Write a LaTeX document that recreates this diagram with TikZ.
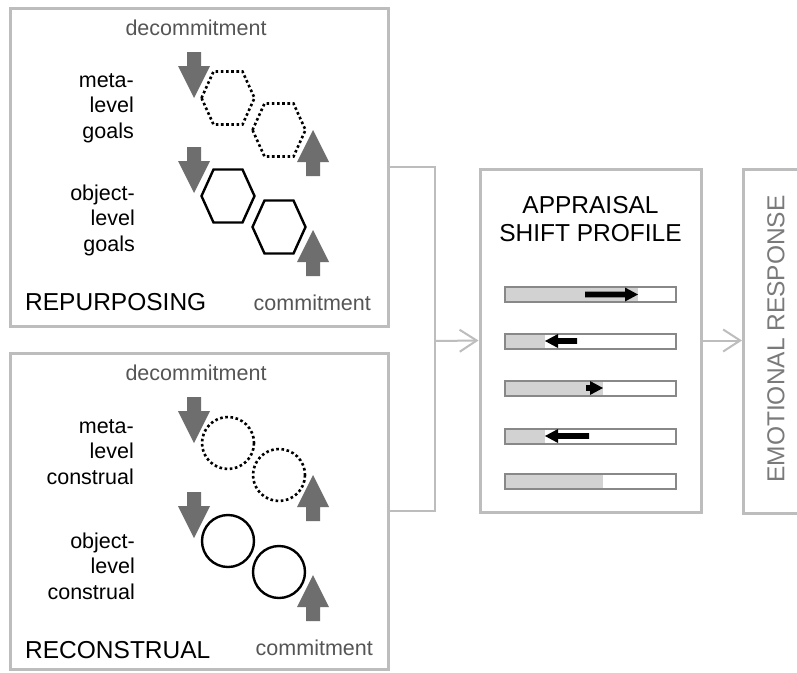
\documentclass[tikz,border=0pt]{standalone}
\usepackage{fontspec}
\setmainfont{Liberation Sans}
\usetikzlibrary{arrows.meta}
\definecolor{boxgray}{HTML}{BDBDBD}
\definecolor{arrgray}{HTML}{6E6E6E}
\definecolor{txtgray}{HTML}{555555}
\definecolor{bargray}{HTML}{888888}
\definecolor{barfill}{HTML}{D2D2D2}
\definecolor{ergray}{HTML}{7A7A7A}
\tikzset{
  panel/.style={draw=boxgray, line width=3pt, fill=white, inner sep=0pt},
  conn/.style={draw=boxgray, line width=2pt},
  conntip/.style={conn, -{Straight Barb[length=17pt,width=22pt,line width=2pt]}},
  lbltxt/.style={font=\fontsize{21.5}{25.5}\selectfont, align=right, anchor=east, inner sep=0pt},
  bigtxt/.style={font=\fontsize{24.5}{28}\selectfont, inner sep=0pt},
  cmtxt/.style={font=\fontsize{21.5}{25}\selectfont, text=txtgray, inner sep=0pt},
  dotline/.style={line width=2.6pt, dash pattern=on 2.6pt off 2.6pt},
  solidline/.style={line width=2.4pt},
  bigarrow/.style={fill=arrgray, draw=none},
  barbox/.style={draw=bargray, line width=2pt},
  blackarrow/.style={fill=black, draw=none}
}
% down arrow with tip at (#1,#2)
\newcommand{\downarr}[2]{\fill[bigarrow] (#1-7,#2-46) -- (#1+7,#2-46) -- (#1+7,#2-32) -- (#1+16,#2-32) -- (#1,#2) -- (#1-16,#2-32) -- (#1-7,#2-32) -- cycle;}
\newcommand{\uparr}[2]{\fill[bigarrow] (#1-7,#2+46) -- (#1+7,#2+46) -- (#1+7,#2+32) -- (#1+16,#2+32) -- (#1,#2) -- (#1-16,#2+32) -- (#1-7,#2+32) -- cycle;}
\newcommand{\hexa}[3]{\draw[#3] (#1-26.5,#2) -- (#1-14.5,#2-26.5) -- (#1+14.5,#2-26.5) -- (#1+26.5,#2) -- (#1+14.5,#2+26.5) -- (#1-14.5,#2+26.5) -- cycle;}
% black bar arrow: right-pointing from tail #1 to tip #2 at y #3
\newcommand{\barR}[3]{\fill[blackarrow] (#1,#3-2.8) -- (#2-13,#3-2.8) -- (#2-13,#3-7) -- (#2,#3) -- (#2-13,#3+7) -- (#2-13,#3+2.8) -- (#1,#3+2.8) -- cycle;}
\newcommand{\barL}[3]{\fill[blackarrow] (#1,#3-2.8) -- (#2+13,#3-2.8) -- (#2+13,#3-7) -- (#2,#3) -- (#2+13,#3+7) -- (#2+13,#3+2.8) -- (#1,#3+2.8) -- cycle;}
\begin{document}
\begin{tikzpicture}[x=1pt,y=-1pt]
\useasboundingbox (0,0) rectangle (797,672);
\clip (0,0) rectangle (797,672);
\fill[white] (0,0) rectangle (797,672);

% panels
\node[panel, minimum width=378pt, minimum height=318pt] (rep) at (199,167) {};
\node[panel, minimum width=378pt, minimum height=316pt] (rec) at (199,511) {};
\node[panel, minimum width=221pt, minimum height=343pt] (asp) at (590.5,340.5) {};
\node[panel, minimum width=120pt, minimum height=344pt, anchor=north west] (er) at (742,168) {};

% connectors
\coordinate (j) at (435,341);
\draw[conn] (rep.east) -| (j) |- (rec.east);
\draw[conntip] (j) -- (asp.west);
\draw[conntip] (asp.east) -- (er.west |- asp.east);

% repurposing panel
\node[cmtxt] (dc1) at (196,28) {decommitment};
\node[lbltxt] (ml1) at (134,108) {meta-\\level\\goals};
\node[lbltxt] (ol1) at (135,220) {object-\\level\\goals};
\node[bigtxt, anchor=west] (repl) at (25,302) {REPURPOSING};
\node[cmtxt, anchor=east] (c1) at (371,303) {commitment};
\hexa{228}{98}{dotline}
\hexa{279}{130}{dotline}
\hexa{228}{196}{solidline}
\hexa{279}{227}{solidline}
\downarr{194}{98}
\uparr{313}{130}
\downarr{194}{193}
\uparr{313}{230}

% reconstrual panel
\node[cmtxt] (dc2) at (196,373) {decommitment};
\node[lbltxt] (ml2) at (134,452) {meta-\\level\\construal};
\node[lbltxt] (ol2) at (135,566) {object-\\level\\construal};
\node[bigtxt, anchor=west] (recl) at (25,650) {RECONSTRUAL};
\node[cmtxt, anchor=east] (c2) at (373,648) {commitment};
\draw[dotline] (228,443) circle (26);
\draw[dotline] (279,475) circle (26);
\draw[solidline] (228,541) circle (26);
\draw[solidline] (279,572) circle (26);
\downarr{194}{443}
\uparr{313}{475}
\downarr{194}{538}
\uparr{313}{575}

% appraisal shift profile
\node[bigtxt, align=center] (aspt) at (590.5,219) {APPRAISAL\\SHIFT PROFILE};
\foreach \yy/\ff in {294.5/638, 341/545, 388/603, 436/545, 481/603}{
  \fill[barfill] (505,\yy-7.5) rectangle (\ff,\yy+7.5);
  \draw[barbox] (505,\yy-7.5) rectangle (676,\yy+7.5);
}
\barR{585}{638}{294.5}
\barL{577}{545}{341}
\barR{586}{603}{388}
\barL{589}{545}{436}

% emotional response
\node[bigtxt, text=ergray, rotate=90] (ert) at (776,339) {EMOTIONAL RESPONSE};
\end{tikzpicture}
\end{document}
